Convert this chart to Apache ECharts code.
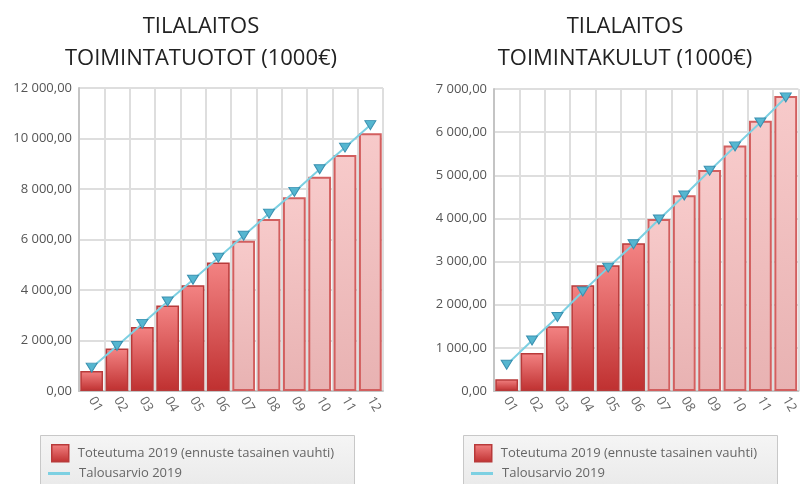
<!DOCTYPE html>
<html>
<head>
<meta charset="utf-8">
<title>Tilalaitos</title>
<script src="https://cdn.jsdelivr.net/npm/echarts@6/dist/echarts.min.js"></script>
<style>
  html, body { margin: 0; padding: 0; background: #fff; }
  #chart { width: 800px; height: 484px; }
</style>
</head>
<body>
<div id="chart"></div>
<script>
// kuukaudet
var months = ['01', '02', '03', '04', '05', '06', '07', '08', '09', '10', '11', '12']
// toteutuneet kuukaudet, loput ennustetta
var actualMonths = 6

// toimintatuotot (1000€), kumulatiivinen
var tuototToteutuma = [790, 1680, 2530, 3390, 4190, 5090, 5950, 6810, 7670, 8490, 9350, 10210]
var tuototTalousarvio = [925, 1785, 2660, 3545, 4405, 5280, 6150, 7025, 7885, 8780, 9640, 10530]

// toimintakulut (1000€), kumulatiivinen
var kulutToteutuma = [270, 880, 1500, 2450, 2915, 3425, 3985, 4540, 5120, 5690, 6265, 6835]
var kulutTalousarvio = [610, 1170, 1715, 2305, 2860, 3400, 3975, 4530, 5105, 5670, 6225, 6805]

var nameBar = 'Toteutuma 2019 (ennuste tasainen vauhti)'
var nameLine = 'Talousarvio 2019'
var font = 'Open Sans'

var actualStyle = {
  color: new echarts.graphic.LinearGradient(0, 0, 0, 1, [
    { offset: 0, color: '#f38383' },
    { offset: 1, color: '#bf3030' },
  ]),
  borderColor: '#b83a3a',
  borderWidth: 1.5,
}
var forecastStyle = {
  color: new echarts.graphic.LinearGradient(0, 0, 0, 1, [
    { offset: 0, color: '#f7caca' },
    { offset: 1, color: '#e8b2b2' },
  ]),
  borderColor: '#d25f5f',
  borderWidth: 2,
}

function fmt(v) {
  var s = v.toFixed(2).split('.')
  return s[0].replace(/\B(?=(\d{3})+(?!\d))/g, ' ') + ',' + s[1]
}

function barData(values) {
  return values.map(function (v, i) {
    return { value: v, itemStyle: i < actualMonths ? actualStyle : forecastStyle }
  })
}

function xAxis(idx) {
  return {
    type: 'category',
    gridIndex: idx,
    data: months,
    axisLine: { lineStyle: { color: '#c4c4c4', width: 2 } },
    axisTick: { length: 5, lineStyle: { color: '#c4c4c4', width: 2 } },
    axisLabel: { rotate: -60, color: '#666', fontSize: 13, fontFamily: font, margin: 7 },
    splitLine: { show: true, lineStyle: { color: '#dedede', width: 2 } },
  }
}

function yAxis(idx, max, interval) {
  return {
    type: 'value',
    gridIndex: idx,
    min: 0,
    max: max,
    interval: interval,
    axisLine: { show: true, lineStyle: { color: '#c4c4c4', width: 2 } },
    axisTick: { show: false },
    axisLabel: { color: '#555', fontSize: 13, fontFamily: font, margin: 7, formatter: fmt },
    splitLine: { lineStyle: { color: '#dedede', width: 2 } },
  }
}

function barSeries(idx, values) {
  return {
    name: nameBar,
    type: 'bar',
    xAxisIndex: idx,
    yAxisIndex: idx,
    barCategoryGap: '10%',
    data: barData(values),
    z: 2,
  }
}

function lineSeries(idx, values) {
  return {
    name: nameLine,
    type: 'line',
    xAxisIndex: idx,
    yAxisIndex: idx,
    data: values,
    symbol: 'triangle',
    symbolRotate: 180,
    symbolSize: [11, 9],
    lineStyle: { color: '#7dd0e2', width: 2 },
    itemStyle: { color: '#55b6d0', borderColor: '#3a90b0', borderWidth: 1 },
    z: 3,
  }
}

function legends(left) {
  return [
    {
      left: left + 11,
      top: 444,
      padding: 0,
      itemWidth: 17,
      itemHeight: 17,
      data: [{ name: nameBar, icon: 'rect', itemStyle: actualStyle }],
      textStyle: { color: '#666', fontSize: 13, fontFamily: font, padding: [0, 0, 0, 4] },
      selectedMode: false,
    },
    {
      left: left + 8,
      top: 467,
      padding: 0,
      itemWidth: 22,
      itemHeight: 3,
      data: [{ name: nameLine, icon: 'rect', itemStyle: { color: '#7dd0e2', borderWidth: 0 } }],
      textStyle: { color: '#666', fontSize: 13, fontFamily: font, padding: [0, 0, 0, 4] },
      selectedMode: false,
    },
  ]
}

function legendBox(x) {
  return {
    type: 'rect',
    left: x,
    top: 435,
    z: -1,
    shape: { width: 314, height: 60 },
    style: {
      fill: new echarts.graphic.LinearGradient(0, 0, 0, 1, [
        { offset: 0, color: '#f5f5f5' },
        { offset: 1, color: '#e8e8e8' },
      ]),
      stroke: '#c8c8c8',
      lineWidth: 1,
    },
  }
}

var titleStyle = { fontSize: 22, fontWeight: 'normal', color: '#222', lineHeight: 32, fontFamily: font }

var chart = echarts.init(document.getElementById('chart'))
chart.setOption({
  animation: false,
  title: [
    { text: 'TILALAITOS\nTOIMINTATUOTOT (1000€)', left: 196, top: 6, textAlign: 'center', textStyle: titleStyle },
    { text: 'TILALAITOS\nTOIMINTAKULUT (1000€)', left: 620, top: 6, textAlign: 'center', textStyle: titleStyle },
  ],
  legend: legends(40).concat(legends(463)),
  graphic: [legendBox(40), legendBox(463)],
  grid: [
    { left: 79, top: 88, width: 304, height: 303 },
    { left: 494, top: 89, width: 312, height: 302 },
  ],
  xAxis: [xAxis(0), xAxis(1)],
  yAxis: [yAxis(0, 12000, 2000), yAxis(1, 7000, 1000)],
  series: [
    barSeries(0, tuototToteutuma),
    lineSeries(0, tuototTalousarvio),
    barSeries(1, kulutToteutuma),
    lineSeries(1, kulutTalousarvio),
  ],
})
</script>
</body>
</html>
